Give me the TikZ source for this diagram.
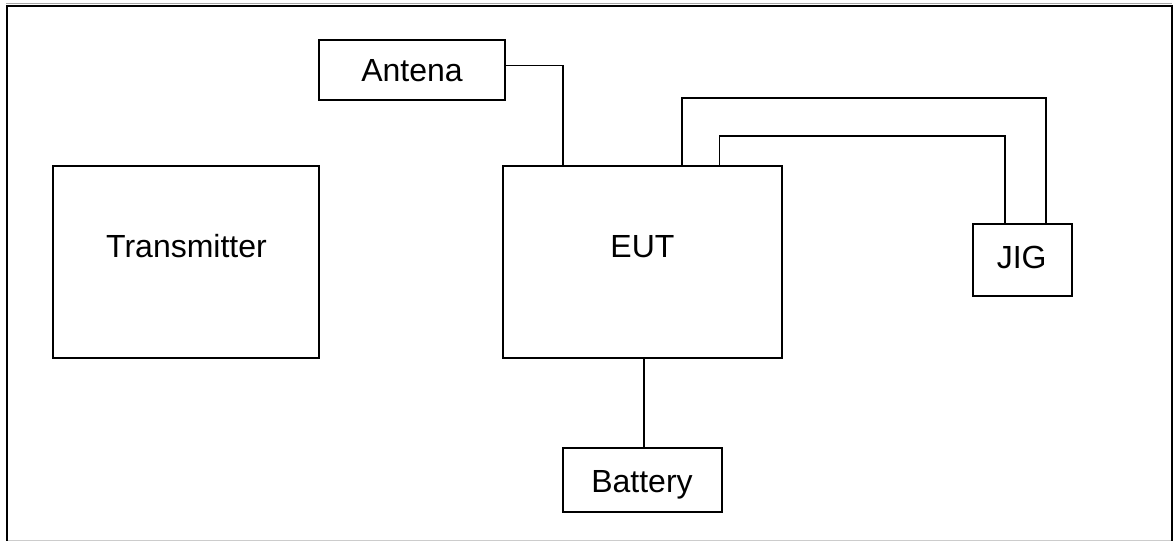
\documentclass[tikz,border=0pt]{standalone}
\usepackage{fontspec}
\setmainfont{Liberation Sans}
\usetikzlibrary{calc}
\begin{document}
\begin{tikzpicture}[x=0.75pt,y=-0.75pt,
  blk/.style={draw=black, line width=1.2pt, inner sep=0pt, outer sep=0pt, fill=white},
  lbl/.style={anchor=base, inner sep=0pt, font=\fontsize{24pt}{28pt}\selectfont},
  wire/.style={draw=black, line width=1.2pt}]
\useasboundingbox (0,0) rectangle (1174,541);
% frame
\draw[line width=0.6pt, draw=black!35] (6,3.8) -- (1172,3.8);
\draw[line width=0.6pt, draw=black!20] (7,540.2) -- (1171,540.2);
\draw[line width=1.5pt] (6.8,541) -- (6.8,5.8) -- (1172.3,5.8) -- (1172.3,541);
% boxes
\node[blk, minimum width=266.5*0.75pt, minimum height=192*0.75pt] (tx) at (186,262) {};
\node[blk, minimum width=279*0.75pt, minimum height=192*0.75pt] (eut) at (642.4,262) {};
\node[blk, minimum width=186.5*0.75pt, minimum height=60*0.75pt] (ant) at (412,70) {};
\node[blk, minimum width=99*0.75pt, minimum height=72*0.75pt] (jig) at (1022.2,260) {};
\node[blk, minimum width=159*0.75pt, minimum height=64.5*0.75pt] (bat) at (642.2,480) {};
% labels
\node[lbl] (txl) at (186.5,258) {Transmitter};
\node[lbl] (eutl) at (642.4,258) {EUT};
\node[lbl] (antl) at (412,82) {Antena};
\node[lbl] (jigl) at (1021.7,269) {JIG};
\node[lbl] (batl) at (642,492.5) {Battery};
% connectors
\coordinate (a1) at ($(ant.east)+(0,-4.3)$);
\coordinate (a2) at ($(eut.north west)+(60.3,0)$);
\draw[wire] (a1) -| (a2);
\coordinate (o1) at ($(eut.north west)+(179,0)$);
\coordinate (o2) at ($(jig.north west)+(73.2,0)$);
\coordinate (ob) at (0,98);
\draw[wire] (o1) -- (o1 |- ob) -- (o2 |- ob) -- (o2);
\coordinate (i1) at ($(eut.north west)+(216.6,0)$);
\coordinate (i2) at ($(jig.north west)+(32.2,0)$);
\coordinate (ib) at (0,136);
\draw[wire] (i1) -- (i1 |- ib) -- (i2 |- ib) -- (i2);
\coordinate (b1) at ($(eut.south)+(1.6,0)$);
\draw[wire] (b1) -- (b1 |- bat.north);
\end{tikzpicture}
\end{document}
